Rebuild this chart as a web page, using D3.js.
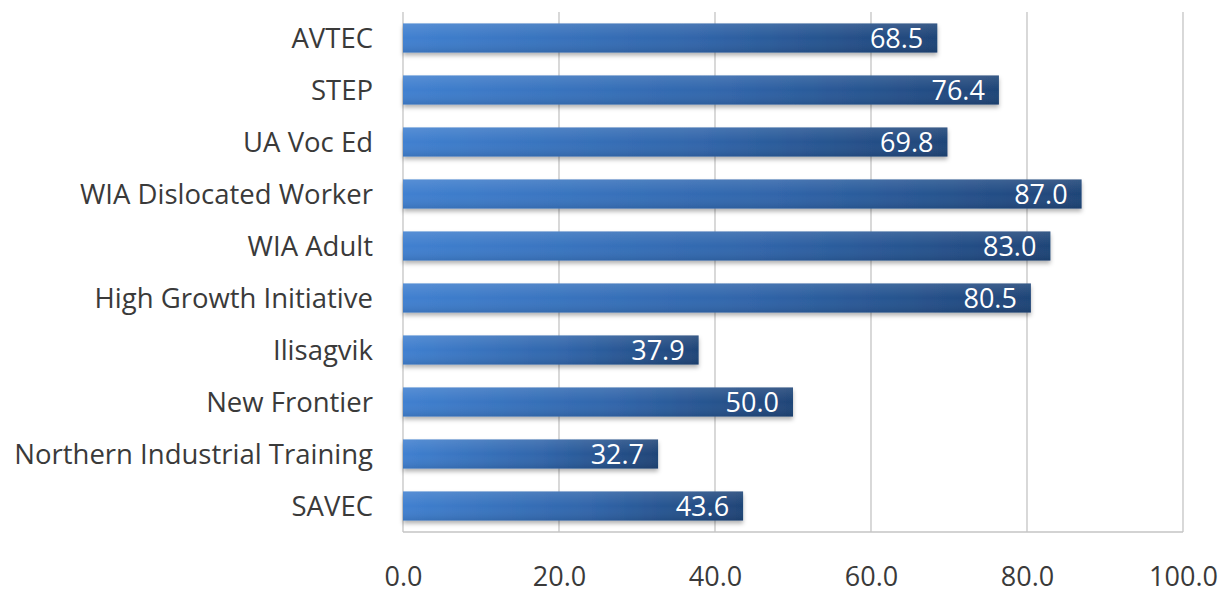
<!DOCTYPE html>
<html>
<head>
<meta charset="utf-8">
<script src="https://cdn.jsdelivr.net/npm/d3@7"></script>
<style>
  body { margin: 0; background: #fff; }
  text { font-family: "Open Sans", "Noto Sans", sans-serif; }
</style>
</head>
<body>
<div id="chart"></div>
<script>
const categories = ['AVTEC', 'STEP', 'UA Voc Ed', 'WIA Dislocated Worker', 'WIA Adult',
  'High Growth Initiative', 'Ilisagvik', 'New Frontier', 'Northern Industrial Training', 'SAVEC'];
const values = [68.5, 76.4, 69.8, 87.0, 83.0, 80.5, 37.9, 50.0, 32.7, 43.6];
const ticks = [0, 20, 40, 60, 80, 100];

const width = 1222, height = 596;
const margin = { top: 12, right: 39, bottom: 64, left: 403 };

const svg = d3.select('#chart').append('svg')
  .attr('width', width).attr('height', height);

const defs = svg.append('defs');
const grad = defs.append('linearGradient').attr('id', 'barGrad')
  .attr('x1', 0).attr('x2', 1).attr('y1', 0).attr('y2', 0);
grad.append('stop').attr('offset', '0%').attr('stop-color', '#4080d0');
grad.append('stop').attr('offset', '55%').attr('stop-color', '#3065aa');
grad.append('stop').attr('offset', '100%').attr('stop-color', '#1f4477');
const vgrad = defs.append('linearGradient').attr('id', 'barShade')
  .attr('x1', 0).attr('x2', 0).attr('y1', 0).attr('y2', 1);
vgrad.append('stop').attr('offset', '0%').attr('stop-color', '#fff').attr('stop-opacity', 0.12);
vgrad.append('stop').attr('offset', '50%').attr('stop-color', '#fff').attr('stop-opacity', 0);
vgrad.append('stop').attr('offset', '100%').attr('stop-color', '#000').attr('stop-opacity', 0.1);
const shadow = defs.append('filter').attr('id', 'shadow')
  .attr('x', '-5%').attr('y', '-20%').attr('width', '110%').attr('height', '160%');
shadow.append('feDropShadow').attr('dx', 0).attr('dy', 3).attr('stdDeviation', 2)
  .attr('flood-color', '#000').attr('flood-opacity', 0.3);

const x = d3.scaleLinear().domain([0, 100]).range([margin.left, width - margin.right]);
const y = d3.scaleBand().domain(categories)
  .range([margin.top, height - margin.bottom]).paddingInner(0.44).paddingOuter(0.22);

// gridlines
svg.append('g')
  .selectAll('line').data(ticks).join('line')
  .attr('x1', d => x(d)).attr('x2', d => x(d))
  .attr('y1', margin.top).attr('y2', height - margin.bottom)
  .attr('stroke', '#c4c4c4').attr('stroke-width', 1.3);

// bottom axis line
svg.append('line')
  .attr('x1', x(0)).attr('x2', x(100))
  .attr('y1', height - margin.bottom).attr('y2', height - margin.bottom)
  .attr('stroke', '#c4c4c4').attr('stroke-width', 1.3);

const bars = svg.append('g');
bars.selectAll('rect.bar').data(values).join('rect')
  .attr('class', 'bar')
  .attr('x', x(0))
  .attr('y', (d, i) => y(categories[i]))
  .attr('width', d => x(d) - x(0))
  .attr('height', y.bandwidth())
  .attr('fill', 'url(#barGrad)')
  .attr('filter', 'url(#shadow)');
bars.selectAll('rect.shade').data(values).join('rect')
  .attr('class', 'shade')
  .attr('x', x(0))
  .attr('y', (d, i) => y(categories[i]))
  .attr('width', d => x(d) - x(0))
  .attr('height', y.bandwidth())
  .attr('fill', 'url(#barShade)');

// value labels
svg.append('g').selectAll('text').data(values).join('text')
  .attr('x', d => x(d) - 14)
  .attr('y', (d, i) => y(categories[i]) + y.bandwidth() / 2)
  .attr('dy', '0.36em')
  .attr('text-anchor', 'end')
  .attr('fill', '#fff')
  .attr('font-size', 27)
  .text(d => d.toFixed(1));

// category axis
const yAxis = svg.append('g')
  .attr('transform', `translate(${x(0) - 30},0)`)
  .call(d3.axisLeft(y).tickSize(0).tickPadding(0));
yAxis.select('.domain').remove();
yAxis.selectAll('text')
  .attr('font-size', 27.5)
  .attr('dy', '0.35em')
  .attr('fill', '#3a3a3a')
  .style('font-family', '"Open Sans", sans-serif');

// value axis
const xAxis = svg.append('g')
  .attr('transform', `translate(0,${height - 10})`)
  .call(d3.axisBottom(x).tickValues(ticks).tickFormat(d3.format('.1f')).tickSize(0).tickPadding(0));
xAxis.select('.domain').remove();
xAxis.selectAll('text')
  .attr('dy', 0)
  .attr('font-size', 27)
  .attr('fill', '#3a3a3a')
  .style('font-family', '"Open Sans", sans-serif');
</script>
</body>
</html>
